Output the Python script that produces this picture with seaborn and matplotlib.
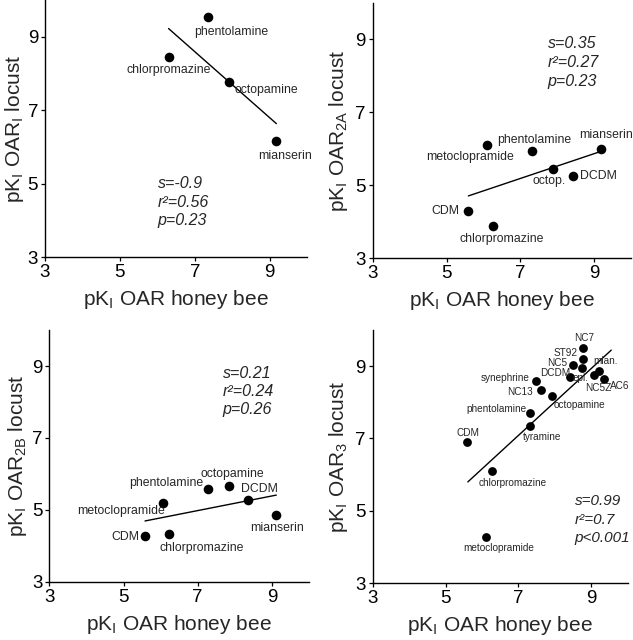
import numpy as np
import pandas as pd
import seaborn as sns
import matplotlib
matplotlib.use("Agg")
import matplotlib.pyplot as plt

sns.set_style("ticks")
plt.rcParams['font.family'] = ['Liberation Sans', 'DejaVu Sans']
plt.rcParams['mathtext.fontset'] = 'custom'
plt.rcParams['mathtext.rm'] = 'Liberation Sans'
plt.rcParams['mathtext.default'] = 'regular'

# panel 1: OAR1 locust vs honey bee
p1_drugs = ["phentolamine", "chlorpromazine", "octopamine", "mianserin"]
p1_bee = [7.35, 6.30, 7.91, 9.17]
p1_locust = [9.55, 8.45, 7.77, 6.16]
p1_fit_x = [6.30, 9.18]
p1_fit_y = [9.23, 6.64]
p1_stats = ["s=-0.9", "r²=0.56", "p=0.23"]

# panel 2: OAR2A
p2_drugs = ["metoclopramide", "phentolamine", "mianserin", "octop.", "DCDM", "CDM", "chlorpromazine"]
p2_bee = [6.09, 7.31, 9.18, 7.89, 8.42, 5.59, 6.25]
p2_locust = [6.10, 5.94, 5.99, 5.44, 5.26, 4.30, 3.89]
p2_fit_x = [5.59, 9.18]
p2_fit_y = [4.71, 5.93]
p2_stats = ["s=0.35", "r²=0.27", "p=0.23"]

# panel 3: OAR2B
p3_drugs = ["phentolamine", "octopamine", "DCDM", "metoclopramide", "mianserin", "CDM", "chlorpromazine"]
p3_bee = [7.27, 7.84, 8.37, 6.06, 9.12, 5.58, 6.23]
p3_locust = [5.58, 5.67, 5.28, 5.18, 4.87, 4.28, 4.33]
p3_fit_x = [5.58, 9.12]
p3_fit_y = [4.69, 5.41]
p3_stats = ["s=0.21", "r²=0.24", "p=0.26"]

# panel 4: OAR3
p4_drugs = ["NC7", "ST92", "NC5", "epi.", "DCDM", "mian.", "NC5Z", "AC6", "synephrine",
            "NC13", "octopamine", "phentolamine", "tyramine", "CDM", "chlorpromazine",
            "metoclopramide"]
p4_bee = [8.77, 8.77, 8.49, 8.75, 8.43, 9.20, 9.09, 9.35, 7.49, 7.62, 7.91, 7.33, 7.32,
          5.59, 6.27, 6.11]
p4_locust = [9.49, 9.20, 9.03, 8.96, 8.71, 8.86, 8.75, 8.65, 8.58, 8.34, 8.16, 7.70, 7.34,
             6.91, 6.11, 4.28]
p4_fit_x = [5.61, 9.55]
p4_fit_y = [5.80, 9.44]
p4_stats = ["s=0.99", "r²=0.7", "p<0.001"]

# label offsets (pixels, x right / y down) for each drug name
p1_off = [(23, 15), (0, 13), (37, 8), (9, 15)]
p2_off = [(-17, 12), (2, -11), (5, -14), (-4, 12), (26, 0), (-23, 0), (9, 13)]
p3_off = [(-41, -6), (3, -12), (11, -11), (-42, 8), (1, 13), (-20, 1), (33, 14)]
p4_off = [(1, -10), (-17, -6), (-15, -2), (-1, 10), (-15, -4), (7, -10), (4, 13), (16, 7),
          (-31, -3), (-21, 2), (28, 9), (-34, -4), (12, 11), (1, -9), (21, 12), (13, 11)]

panels = [
    dict(drugs=p1_drugs, bee=p1_bee, loc=p1_locust, fx=p1_fit_x, fy=p1_fit_y,
         stats=p1_stats, off=p1_off, sub="I", rect=[0.0711, 0.598, 0.414, 0.4016],
         stat_xy=(6.01, [5.02, 4.50, 3.99]), fs=8.8, ms=48, sfs=11.5, ypad=1),
    dict(drugs=p2_drugs, bee=p2_bee, loc=p2_locust, fx=p2_fit_x, fy=p2_fit_y,
         stats=p2_stats, off=p2_off, sub="2A", rect=[0.589, 0.5964, 0.408, 0.399],
         stat_xy=(7.74, [8.89, 8.37, 7.85]), fs=8.8, ms=48, sfs=11.5, ypad=4),
    dict(drugs=p3_drugs, bee=p3_bee, loc=p3_locust, fx=p3_fit_x, fy=p3_fit_y,
         stats=p3_stats, off=p3_off, sub="2B", rect=[0.078, 0.0911, 0.41, 0.393],
         stat_xy=(7.68, [8.80, 8.29, 7.78]), fs=8.8, ms=48, sfs=11.5, ypad=2),
    dict(drugs=p4_drugs, bee=p4_bee, loc=p4_locust, fx=p4_fit_x, fy=p4_fit_y,
         stats=p4_stats, off=p4_off, sub="3", rect=[0.589, 0.0886, 0.4025, 0.396],
         stat_xy=(8.54, [5.26, 4.75, 4.25]), fs=7.2, ms=40, sfs=11, ypad=4),
]

fig = plt.figure(figsize=(6.33, 6.40), dpi=100)

for p in panels:
    ax = fig.add_axes(p["rect"])
    df = pd.DataFrame({"bee": p["bee"], "locust": p["loc"], "drug": p["drugs"]})
    sns.scatterplot(data=df, x="bee", y="locust", ax=ax, color="black",
                    s=p["ms"], edgecolor="black", linewidth=0, zorder=3)
    fit = pd.DataFrame({"x": p["fx"], "y": p["fy"]})
    sns.lineplot(data=fit, x="x", y="y", ax=ax, color="black", linewidth=1.0,
                 zorder=2)
    for name, xv, yv, (dx, dy) in zip(p["drugs"], p["bee"], p["loc"], p["off"]):
        ax.annotate(name, (xv, yv), xytext=(dx, -dy), textcoords="offset pixels",
                    ha="center", va="center", fontsize=p["fs"], zorder=4,
                    annotation_clip=False)
    sx, sys_ = p["stat_xy"]
    for txt, yy in zip(p["stats"], sys_):
        ax.text(sx, yy, txt, fontsize=p["sfs"], style="italic", ha="left", va="center")

    ax.set_xlim(3, 10)
    ax.set_ylim(3, 10)
    ax.set_xticks([3, 5, 7, 9])
    ax.set_yticks([3, 5, 7, 9])
    ax.tick_params(labelsize=13.5, length=3, width=0.9, pad=2, colors="black")
    for side in ["top", "right"]:
        ax.spines[side].set_visible(False)
    for side in ["left", "bottom"]:
        ax.spines[side].set_linewidth(1.0)
        ax.spines[side].set_color("black")
    ax.set_xlabel(r"pK$_{I}$ OAR honey bee", fontsize=15, labelpad=5)
    ax.set_ylabel(r"pK$_{I}$ OAR$_{%s}$ locust" % p["sub"], fontsize=15,
                  labelpad=p["ypad"])

fig.savefig("out.png", dpi=100, facecolor="white")
